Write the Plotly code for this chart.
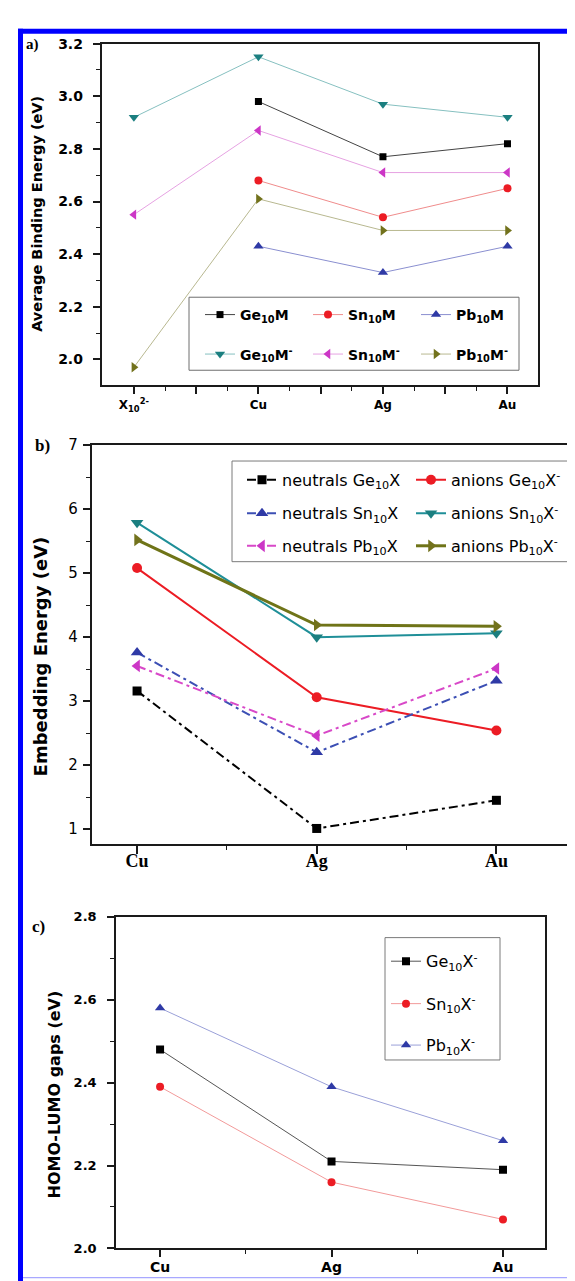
import numpy as np
import plotly.graph_objects as go

# ---------------- data ----------------
# panel a: average binding energy (eV)
cats_a = ["X<sub>10</sub><sup>2-</sup>", "Cu", "Ag", "Au"]
ge10m = [None, 2.98, 2.77, 2.82]
sn10m = [None, 2.68, 2.54, 2.65]
pb10m = [None, 2.43, 2.33, 2.43]
ge10m_anion = [2.92, 3.15, 2.97, 2.92]
sn10m_anion = [2.55, 2.87, 2.71, 2.71]
pb10m_anion = [1.97, 2.61, 2.49, 2.49]

# panel b: embedding energy (eV)
cats_b = ["Cu", "Ag", "Au"]
neutral_ge = [3.16, 1.01, 1.45]
anion_ge = [5.08, 3.06, 2.54]
neutral_sn = [3.76, 2.20, 3.32]
anion_sn = [5.79, 4.00, 4.06]
neutral_pb = [3.55, 2.46, 3.51]
anion_pb = [5.52, 4.19, 4.17]

# panel c: HOMO-LUMO gaps (eV)
cats_c = ["Cu", "Ag", "Au"]
gap_ge = [2.48, 2.21, 2.19]
gap_sn = [2.39, 2.16, 2.07]
gap_pb = [2.58, 2.39, 2.26]

# ---------------- helpers ----------------
W, H = 575, 1281


def fx(p):
    return p / W


def fy(p):
    return 1 - p / H


SANS = "DejaVu Sans"
SERIF = "Liberation Serif"
AX = "#1a1a1a"

BLACK = "#000000"
RED = "#ec1c24"
BLUE = "#2f3aa6"
TEAL = "#1b7f80"
MAGENTA = "#cc36c6"
OLIVE = "#72721c"

fig = go.Figure()
legends = {}
count = [0]


def add(xs, ys, name, xa, ya, color, lcolor, lw, dash, symbol, msize, lx, ly, lfont):
    count[0] += 1
    lid = "legend" if count[0] == 1 else f"legend{count[0]}"
    fig.add_trace(go.Scatter(
        x=xs, y=ys, name=name, xaxis=xa, yaxis=ya, mode="lines+markers",
        line=dict(color=lcolor, width=lw, dash=dash),
        marker=dict(symbol=symbol, size=msize, color=color, line=dict(width=0)),
        legend=lid, hoverinfo="skip"))
    legends[lid] = dict(x=fx(lx), y=fy(ly), xanchor="left", yanchor="middle",
                        bgcolor="rgba(0,0,0,0)", borderwidth=0, font=lfont,
                        tracegroupgap=0)


xa_pos = list(range(len(cats_a)))
xb_pos = list(range(len(cats_b)))
xc_pos = list(range(len(cats_c)))

# ---- panel a ----
fa = dict(family=SANS, size=14, color=BLACK, weight="bold")
DASHDOT = "9px,4px,3px,4px"
add(xa_pos, ge10m, "Ge<sub>10</sub>M", "x", "y", BLACK, "#444444", 1, "solid", "square", 7, 192, 302, fa)
add(xa_pos, sn10m, "Sn<sub>10</sub>M", "x", "y", RED, "#f08c8c", 1, "solid", "circle", 8, 300, 302, fa)
add(xa_pos, pb10m, "Pb<sub>10</sub>M", "x", "y", BLUE, "#8a8fd0", 1, "solid", "triangle-up", 9, 408, 302, fa)
add(xa_pos, ge10m_anion, "Ge<sub>10</sub>M<sup>-</sup>", "x", "y", TEAL, "#86c0c0", 1, "solid", "triangle-down", 9, 192, 342, fa)
add(xa_pos, sn10m_anion, "Sn<sub>10</sub>M<sup>-</sup>", "x", "y", MAGENTA, "#e6a2e2", 1, "solid", "triangle-left", 9, 300, 342, fa)
add(xa_pos, pb10m_anion, "Pb<sub>10</sub>M<sup>-</sup>", "x", "y", OLIVE, "#b8b890", 1, "solid", "triangle-right", 9, 408, 342, fa)

# ---- panel b ----
fb = dict(family=SANS, size=16, color=BLACK)
add(xb_pos, neutral_ge, "neutrals Ge<sub>10</sub>X", "x3", "y3", BLACK, BLACK, 2, DASHDOT, "square", 9, 234, 469, fb)
add(xb_pos, anion_ge, "anions Ge<sub>10</sub>X<sup>-</sup>", "x3", "y3", RED, RED, 2, "solid", "circle", 10, 403, 469, fb)
add(xb_pos, neutral_sn, "neutrals Sn<sub>10</sub>X", "x3", "y3", BLUE, "#3c4fb4", 2, DASHDOT, "triangle-up", 11, 234, 503, fb)
add(xb_pos, anion_sn, "anions Sn<sub>10</sub>X<sup>-</sup>", "x3", "y3", TEAL, "#1f8f98", 2, "solid", "triangle-down", 11, 403, 503, fb)
add(xb_pos, neutral_pb, "neutrals Pb<sub>10</sub>X", "x3", "y3", MAGENTA, "#d848c8", 2, DASHDOT, "triangle-left", 11, 234, 536, fb)
add(xb_pos, anion_pb, "anions Pb<sub>10</sub>X<sup>-</sup>", "x3", "y3", OLIVE, "#6f7418", 3, "solid", "triangle-right", 11, 403, 536, fb)

# ---- panel c ----
fc = dict(family=SANS, size=16, color=BLACK)
add(xc_pos, gap_ge, "Ge<sub>10</sub>X<sup>-</sup>", "x5", "y5", BLACK, "#555555", 1, "solid", "square", 8, 378, 957, fc)
add(xc_pos, gap_sn, "Sn<sub>10</sub>X<sup>-</sup>", "x5", "y5", RED, "#f29a9a", 1, "solid", "circle", 8, 378, 1000, fc)
add(xc_pos, gap_pb, "Pb<sub>10</sub>X<sup>-</sup>", "x5", "y5", BLUE, "#9aa0d8", 1, "solid", "triangle-up", 9, 378, 1042, fc)

# ---------------- axes ----------------
common = dict(showgrid=False, zeroline=False, linecolor=AX, tickcolor=AX)


def cat_axis(cats, dom, rng, anchor, tfont, step_major, minor_vals, standoff, ticklen, mirror=True):
    vals = list(np.arange(0, len(cats) - 1 + 1e-9, step_major))
    text = [cats[int(v)] if abs(v - round(v)) < 1e-9 else "" for v in vals]
    return dict(domain=dom, range=rng, anchor=anchor, tickmode="array", tickvals=vals,
                ticktext=text, ticks="outside", ticklen=ticklen, tickwidth=1.5,
                showline=True, linewidth=1.5, mirror=mirror, tickfont=tfont,
                ticklabelstandoff=standoff,
                minor=dict(tickmode="array", tickvals=minor_vals, ticks="outside",
                           ticklen=4, tickwidth=1, tickcolor=AX, showgrid=False),
                **common)


def val_axis(dom, rng, anchor, t0, dt, mdt, tfont, fmt, standoff, mirror=True):
    return dict(domain=dom, range=rng, anchor=anchor, tickmode="linear", tick0=t0, dtick=dt,
                tickformat=fmt, ticks="outside", ticklen=7, tickwidth=1.5, showline=True,
                linewidth=1.5, mirror=mirror, tickfont=tfont, ticklabelstandoff=standoff,
                minor=dict(tick0=t0, dtick=mdt, ticks="outside", ticklen=4, tickwidth=1,
                           tickcolor=AX, showgrid=False),
                **common)


def deco_axis(over, anchor, side, rng):
    return dict(overlaying=over, anchor=anchor, side=side, range=rng, tickmode="linear",
                tick0=0, dtick=1, ticks="inside", ticklen=5, tickwidth=1,
                showticklabels=False, showline=False, **common)


# panel a geometry
ax_a = [fx(93.5), fx(530)]
ay_a = [fy(373), fy(27)]
# panel b geometry
ax_b = [fx(83.6), 1.0]
ay_b = [fy(838), fy(434)]
# panel c geometry
ax_c = [fx(108), fx(537)]
ay_c = [fy(1248), fy(912)]

layout = dict(
    width=W, height=H, margin=dict(l=0, r=0, t=0, b=0),
    paper_bgcolor="white", plot_bgcolor="white", showlegend=True,
    xaxis=cat_axis(cats_a, ax_a, [-0.26, 3.245], "y",
                   dict(family=SANS, size=12, color=BLACK, weight="bold"), 0.5,
                   [0.25, 0.75, 1.25, 1.75, 2.25, 2.75], 1, 7),
    yaxis=val_axis(ay_a, [1.9025, 3.2], "x", 2.0, 0.2, 0.1,
                   dict(family=SANS, size=14, color=BLACK, weight="bold"), ".1f", 7),
    xaxis2=deco_axis("x", "y", "top", [0, 10]),
    yaxis2=deco_axis("y", "x", "right", [0, 10]),
    xaxis3=cat_axis(cats_b, ax_b, [-0.253, 2.482], "y3",
                    dict(family=SERIF, size=18, color=BLACK, weight="bold"), 1,
                    [0.5, 1.5], -8, 8),
    yaxis3=val_axis(ay_b, [0.769, 7], "x3", 0, 1, 0.5,
                    dict(family=SANS, size=15, color=BLACK), "d", 2, mirror=False),
    xaxis4=deco_axis("x3", "y3", "top", [0, 9.93]),
    yaxis4=deco_axis("y3", "x3", "right", [0, 10]),
    xaxis5=cat_axis(cats_c, ax_c, [-0.257, 2.245], "y5",
                    dict(family=SANS, size=14, color=BLACK, weight="bold"), 1,
                    [0.5, 1.5], -2, 7),
    yaxis5=val_axis(ay_c, [2.0, 2.8], "x5", 2.0, 0.2, 0.1,
                    dict(family=SANS, size=13, color=BLACK, weight="bold"), ".1f", 8),
    xaxis6=deco_axis("x5", "y5", "top", [0, 10]),
    yaxis6=deco_axis("y5", "x5", "right", [0, 10]),
)
layout.update(legends)

# ---------------- annotations (titles, panel labels) ----------------
ann = []


def text(t, xp, yp, font, angle=0):
    ann.append(dict(text=t, x=fx(xp), y=fy(yp), xref="paper", yref="paper",
                    xanchor="center", yanchor="middle", showarrow=False,
                    textangle=angle, font=font))


text("Average Binding Energy (eV)", 29.5, 200, dict(family=SANS, size=14.5, color=BLACK, weight="bold"), -90)
text("Embedding Energy (eV)", 32, 648, dict(family=SANS, size=18, color=BLACK, weight="bold"), -90)
text("HOMO-LUMO gaps (eV)", 47, 1092, dict(family=SANS, size=16, color=BLACK, weight="bold"), -90)
text("a)", 24.5, 27.5, dict(family=SERIF, size=15, color=BLACK, weight="bold"))
text("b)", 34, 434.5, dict(family=SERIF, size=17, color=BLACK, weight="bold"))
text("c)", 30.5, 922, dict(family=SERIF, size=17, color=BLACK, weight="bold"))
layout["annotations"] = ann

# ---------------- shapes (legend boxes, page border) ----------------
shapes = []


def rect(x0, y0, x1, y1, line=None, fill=None, layer="above"):
    shapes.append(dict(type="rect", xref="paper", yref="paper",
                       x0=fx(x0), x1=fx(x1), y0=fy(y1), y1=fy(y0),
                       line=line or dict(width=0), fillcolor=fill, layer=layer))


rect(181, 284, 511, 358, line=dict(color="#6e6e6e", width=1))
rect(224, 450, 566, 552, line=dict(color="#7a7a7a", width=1))
rect(377, 933, 492, 1057, line=dict(color="#7a7a7a", width=1))
# blue page border
rect(10, 12, 575, 17, fill="#0000ff")
rect(10, 12, 15, 1281, fill="#0000ff")
rect(15, 1277, 575, 1278.5, fill="#a8a8ff")
rect(15, 1278.5, 575, 1281, fill="white")
layout["shapes"] = shapes

fig.update_layout(**layout)
fig.write_html("out.html")
